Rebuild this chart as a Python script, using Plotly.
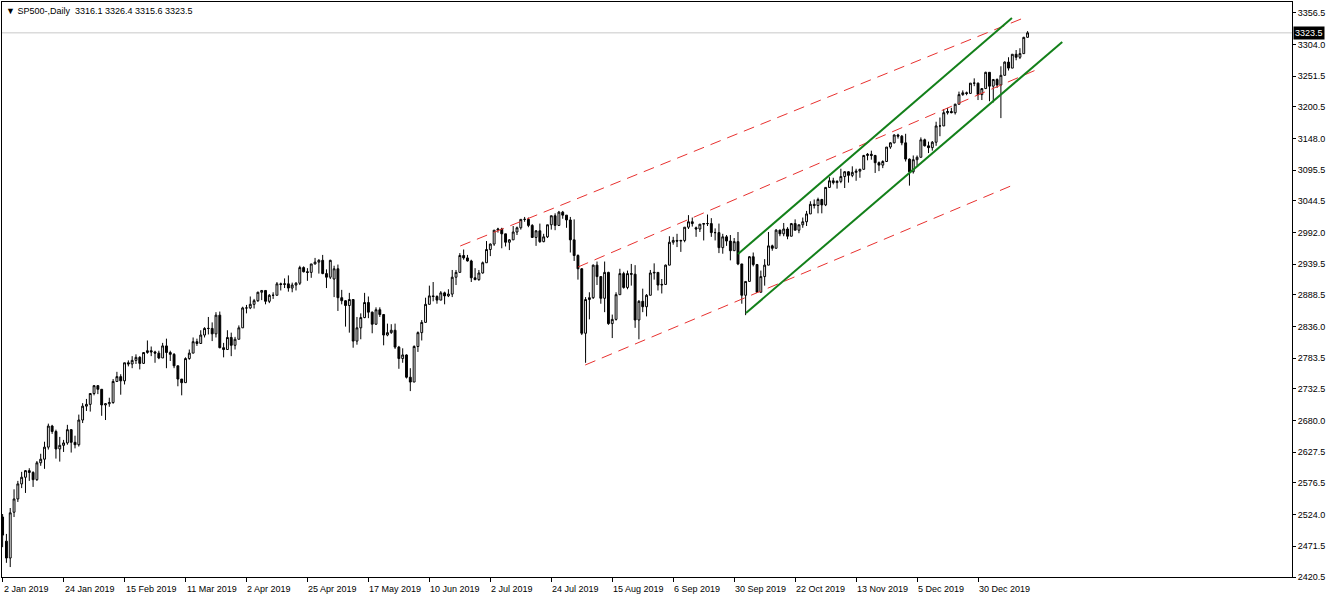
import pandas as pd
import plotly.graph_objects as go

# ---------------- data ----------------
symbol_header = "SP500-,Daily"
last_ohlc = ["3316.1", "3326.4", "3315.6", "3323.5"]
last_price = 3323.5

missing_days = ["2019-04-19", "2019-12-25", "2020-01-01"]

opens = [
    2520, 2480, 2452, 2528, 2550, 2575, 2586, 2597, 2594, 2582,
    2610, 2616, 2636, 2671, 2662, 2633, 2639, 2643, 2665, 2644,
    2640, 2681, 2704, 2707, 2725, 2738, 2732, 2706, 2708, 2710,
    2745, 2753, 2746, 2776, 2774, 2780, 2785, 2775, 2793, 2796,
    2794, 2792, 2784, 2804, 2793, 2790, 2771, 2749, 2743, 2783,
    2792, 2811, 2808, 2822, 2833, 2833, 2824, 2855, 2801, 2798,
    2818, 2805, 2815, 2834, 2867, 2867, 2873, 2879, 2893, 2896,
    2878, 2888, 2888, 2907, 2906, 2907, 2900, 2905, 2908, 2934,
    2927, 2926, 2940, 2943, 2946, 2924, 2918, 2915, 2932, 2884,
    2879, 2871, 2881, 2812, 2834, 2851, 2876, 2860, 2840, 2864,
    2856, 2822, 2826, 2830, 2802, 2783, 2789, 2752, 2744, 2803,
    2826, 2843, 2873, 2887, 2886, 2880, 2892, 2887, 2890, 2918,
    2926, 2954, 2950, 2945, 2917, 2914, 2925, 2942, 2964, 2973,
    2996, 2998, 2990, 2976, 2980, 2993, 3000, 3014, 3014, 3004,
    2984, 2995, 2977, 2985, 3005, 3020, 3004, 3026, 3021, 3013,
    2980, 2954, 2932, 2825, 2881, 2884, 2938, 2919, 2883, 2926,
    2841, 2848, 2889, 2924, 2901, 2924, 2923, 2847, 2878, 2869,
    2888, 2925, 2926, 2905, 2906, 2938, 2976, 2979, 2978, 2979,
    3001, 3010, 3000, 2998, 3006, 3007, 3007, 2992, 2992, 2967,
    2985, 2978, 2962, 2977, 2940, 2888, 2911, 2952, 2939, 2893,
    2919, 2938, 2970, 2966, 2996, 2990, 2998, 2986, 3007, 2996,
    3005, 3010, 3023, 3039, 3037, 3047, 3038, 3067, 3078, 3075,
    3077, 3085, 3093, 3087, 3092, 3094, 3097, 3120, 3122, 3120,
    3108, 3104, 3110, 3134, 3141, 3154, 3152, 3141, 3114, 3093,
    3113, 3117, 3146, 3136, 3133, 3142, 3169, 3169, 3191, 3193,
    3191, 3205, 3221, 3224, 3223, 3240, 3240, 3221, 3231, 3258,
    3235, 3246, 3237, 3253, 3275, 3265, 3288, 3283, 3289, 3316.1,
]
highs = [
    2525, 2492, 2535, 2566, 2580, 2595, 2598, 2601, 2596, 2613,
    2625, 2645, 2675, 2673, 2665, 2653, 2648, 2673, 2666, 2655,
    2690, 2709, 2716, 2725, 2739, 2739, 2732, 2709, 2718, 2749,
    2761, 2757, 2776, 2780, 2787, 2790, 2787, 2793, 2813, 2803,
    2796, 2796, 2809, 2816, 2796, 2792, 2771, 2749, 2785, 2798,
    2818, 2816, 2830, 2835, 2852, 2843, 2860, 2861, 2809, 2830,
    2826, 2819, 2838, 2869, 2872, 2886, 2882, 2894, 2896, 2896,
    2890, 2893, 2910, 2909, 2916, 2921, 2909, 2910, 2937, 2936,
    2933, 2940, 2950, 2948, 2955, 2931, 2947, 2937, 2939, 2897,
    2880, 2892, 2881, 2852, 2858, 2892, 2886, 2861, 2868, 2868,
    2857, 2841, 2840, 2841, 2804, 2800, 2790, 2767, 2805, 2828,
    2847, 2884, 2904, 2910, 2888, 2895, 2894, 2898, 2930, 2930,
    2958, 2964, 2955, 2947, 2933, 2930, 2944, 2978, 2974, 2996,
    3000, 3000, 2990, 2981, 3003, 3002, 3014, 3018, 3017, 3006,
    2996, 3007, 2990, 3005, 3020, 3024, 3028, 3028, 3021, 3018,
    3014, 2956, 2933, 2885, 2893, 2939, 2944, 2919, 2944, 2927,
    2856, 2893, 2932, 2927, 2929, 2940, 2938, 2880, 2899, 2890,
    2930, 2941, 2926, 2915, 2939, 2986, 2985, 2990, 2980, 3001,
    3021, 3017, 3002, 3006, 3008, 3022, 3016, 2999, 3007, 2990,
    2988, 2988, 2983, 2993, 2940, 2911, 2953, 2959, 2940, 2929,
    2948, 2993, 2972, 2998, 2997, 3008, 3001, 3008, 3014, 3005,
    3017, 3028, 3044, 3047, 3050, 3048, 3067, 3084, 3083, 3079,
    3098, 3094, 3094, 3102, 3098, 3098, 3121, 3124, 3128, 3121,
    3110, 3112, 3134, 3142, 3155, 3156, 3154, 3156, 3115, 3120,
    3120, 3150, 3148, 3143, 3144, 3176, 3183, 3197, 3199, 3199,
    3206, 3226, 3228, 3226, 3240, 3248, 3241, 3232, 3259, 3258,
    3247, 3248, 3268, 3276, 3283, 3288, 3295, 3298, 3317, 3326.4,
]
lows = [
    2470, 2444, 2437, 2520, 2545, 2568, 2560, 2580, 2570, 2580,
    2605, 2600, 2632, 2658, 2617, 2612, 2628, 2640, 2627, 2634,
    2637, 2676, 2696, 2695, 2722, 2724, 2688, 2681, 2703, 2708,
    2744, 2723, 2740, 2770, 2767, 2774, 2765, 2774, 2791, 2787,
    2776, 2782, 2784, 2767, 2779, 2767, 2737, 2722, 2743, 2781,
    2792, 2804, 2808, 2818, 2823, 2812, 2818, 2800, 2785, 2798,
    2787, 2798, 2815, 2834, 2858, 2865, 2866, 2877, 2880, 2873,
    2875, 2882, 2888, 2896, 2900, 2894, 2893, 2896, 2905, 2926,
    2912, 2917, 2939, 2924, 2923, 2900, 2915, 2885, 2862, 2873,
    2836, 2826, 2801, 2806, 2815, 2850, 2850, 2825, 2839, 2852,
    2805, 2820, 2824, 2799, 2766, 2776, 2750, 2729, 2744, 2794,
    2813, 2843, 2873, 2878, 2874, 2880, 2873, 2885, 2885, 2905,
    2926, 2947, 2944, 2910, 2913, 2912, 2924, 2942, 2953, 2970,
    2992, 2966, 2969, 2963, 2980, 2988, 2997, 3010, 3001, 2984,
    2970, 2975, 2976, 2983, 2997, 2996, 3003, 3015, 3000, 2959,
    2945, 2914, 2822, 2776, 2848, 2882, 2905, 2874, 2860, 2839,
    2817, 2846, 2889, 2899, 2898, 2904, 2834, 2815, 2860, 2853,
    2888, 2914, 2896, 2891, 2906, 2938, 2972, 2968, 2960, 2976,
    2998, 3002, 2985, 2993, 2979, 3003, 2985, 2979, 2958, 2957,
    2970, 2946, 2962, 2938, 2874, 2855, 2911, 2936, 2892, 2893,
    2904, 2938, 2962, 2966, 2986, 2986, 2981, 2986, 2996, 2991,
    3000, 3003, 3023, 3032, 3024, 3024, 3036, 3066, 3072, 3065,
    3074, 3066, 3075, 3084, 3078, 3083, 3097, 3112, 3113, 3091,
    3094, 3099, 3110, 3131, 3140, 3148, 3137, 3110, 3070, 3090,
    3103, 3117, 3135, 3124, 3128, 3136, 3152, 3169, 3188, 3190,
    3188, 3205, 3219, 3220, 3223, 3235, 3212, 3212, 3231, 3210,
    3208, 3232, 3182, 3253, 3261, 3265, 3278, 3280, 3289, 3315.6,
]
closes = [
    2490, 2452, 2527, 2550, 2575, 2586, 2597, 2594, 2582, 2610,
    2616, 2636, 2671, 2662, 2633, 2639, 2643, 2665, 2644, 2640,
    2681, 2704, 2707, 2725, 2738, 2732, 2706, 2708, 2710, 2745,
    2753, 2746, 2776, 2774, 2780, 2785, 2775, 2793, 2796, 2794,
    2792, 2784, 2804, 2793, 2790, 2771, 2749, 2743, 2783, 2792,
    2811, 2808, 2822, 2833, 2833, 2824, 2855, 2801, 2798, 2818,
    2805, 2815, 2834, 2867, 2867, 2873, 2879, 2893, 2896, 2878,
    2888, 2888, 2907, 2906, 2907, 2900, 2905, 2908, 2934, 2927,
    2926, 2940, 2943, 2946, 2924, 2918, 2946, 2932, 2884, 2879,
    2871, 2881, 2812, 2834, 2851, 2876, 2860, 2840, 2864, 2856,
    2822, 2826, 2830, 2802, 2783, 2789, 2752, 2744, 2803, 2826,
    2843, 2873, 2887, 2886, 2880, 2892, 2887, 2890, 2918, 2926,
    2954, 2950, 2945, 2917, 2914, 2925, 2942, 2964, 2973, 2996,
    2998, 2990, 2976, 2980, 2993, 3000, 3014, 3014, 3004, 2984,
    2995, 2977, 2985, 3005, 3020, 3004, 3026, 3021, 3013, 2980,
    2954, 2932, 2825, 2881, 2884, 2938, 2919, 2883, 2926, 2841,
    2848, 2889, 2924, 2901, 2924, 2923, 2847, 2878, 2869, 2888,
    2925, 2926, 2905, 2906, 2938, 2976, 2979, 2978, 2979, 3001,
    3010, 3007, 2998, 3006, 3007, 3007, 2992, 2992, 2967, 2985,
    2978, 2962, 2977, 2940, 2888, 2911, 2952, 2939, 2893, 2919,
    2938, 2970, 2966, 2996, 2990, 2998, 2986, 3007, 2996, 3005,
    3010, 3023, 3039, 3037, 3047, 3038, 3067, 3078, 3075, 3077,
    3085, 3093, 3087, 3092, 3094, 3097, 3120, 3122, 3120, 3108,
    3104, 3110, 3134, 3141, 3154, 3152, 3141, 3114, 3093, 3113,
    3117, 3146, 3136, 3133, 3142, 3169, 3169, 3191, 3193, 3191,
    3205, 3221, 3224, 3223, 3240, 3240, 3221, 3231, 3258, 3235,
    3246, 3237, 3253, 3275, 3265, 3288, 3283, 3289, 3316, 3323.5,
]

date_tick_labels = [
    "2 Jan 2019", "24 Jan 2019", "15 Feb 2019", "11 Mar 2019", "2 Apr 2019",
    "25 Apr 2019", "17 May 2019", "10 Jun 2019", "2 Jul 2019", "24 Jul 2019",
    "15 Aug 2019", "6 Sep 2019", "30 Sep 2019", "22 Oct 2019", "13 Nov 2019",
    "5 Dec 2019", "30 Dec 2019",
]
price_ticks = [
    "3356.5", "3304.0", "3251.5", "3200.5", "3148.0", "3095.5", "3044.5",
    "2992.0", "2939.5", "2888.5", "2836.0", "2783.5", "2732.5", "2680.0",
    "2627.5", "2576.5", "2524.0", "2471.5", "2420.5",
]

# trend lines drawn on the chart (bar index, price)
red_x0 = [120.1, 151.0, 152.9]
red_y0 = [2969.8, 2934.9, 2772.3]
red_x1 = [268.6, 271.8, 265.2]
red_y1 = [3349.8, 3263.5, 3071.0]
green_x0 = [193.0, 195.1]
green_y0 = [2956.5, 2858.6]
green_x1 = [264.9, 278.1]
green_y1 = [3348.1, 3308.3]

# ---------------- build ----------------
bars = pd.bdate_range("2019-01-02", "2020-01-17")
bars = bars[~bars.isin(pd.to_datetime(missing_days))]
idx = list(range(len(closes)))
tick_pos = [bars.get_loc(pd.to_datetime(s, format="%d %b %Y")) for s in date_tick_labels]

FONT = "Liberation Sans, Arial, sans-serif"

fig = go.Figure()
fig.add_trace(go.Candlestick(
    x=idx, open=opens, high=highs, low=lows, close=closes,
    increasing=dict(fillcolor="white", line=dict(color="black", width=1)),
    decreasing=dict(fillcolor="black", line=dict(color="black", width=1)),
    whiskerwidth=0, showlegend=False, hoverinfo="skip",
))

# bid line
fig.add_hline(y=last_price, line=dict(color="#c8c8c8", width=1), layer="below")

for i in range(len(red_x0)):
    fig.add_trace(go.Scatter(
        x=[red_x0[i], red_x1[i]], y=[red_y0[i], red_y1[i]], mode="lines",
        line=dict(color="#e8312f", width=1, dash="11px,7px"),
        showlegend=False, hoverinfo="skip"))
for i in range(len(green_x0)):
    fig.add_trace(go.Scatter(
        x=[green_x0[i], green_x1[i]], y=[green_y0[i], green_y1[i]], mode="lines",
        line=dict(color="#13801a", width=2),
        showlegend=False, hoverinfo="skip"))

annotations = []
for pos, lab in zip(tick_pos, date_tick_labels):
    annotations.append(dict(
        x=pos, y=0, xref="x", yref="paper", text=lab, showarrow=False,
        xanchor="left", yanchor="top", xshift=-1, yshift=-5,
        font=dict(family=FONT, size=9, color="black")))

header = "\u25BC " + symbol_header + "\u00a0\u00a0" + " ".join(last_ohlc)
annotations.append(dict(
    x=0, y=1, xref="paper", yref="paper", text=header, showarrow=False,
    xanchor="left", yanchor="top", xshift=2, yshift=-2,
    font=dict(family=FONT, size=9, color="black")))

annotations.append(dict(
    x=1, y=last_price, xref="paper", yref="y", text=f"{last_price:.1f}",
    showarrow=False, xanchor="left", yanchor="middle", xshift=1,
    bgcolor="black", borderpad=1,
    font=dict(family=FONT, size=9, color="white")))

fig.update_layout(
    width=1332, height=601,
    margin=dict(l=2, r=40, t=2, b=24),
    paper_bgcolor="white", plot_bgcolor="white",
    annotations=annotations,
    hovermode=False,
    xaxis=dict(
        range=[-0.16, 338.4], rangeslider=dict(visible=False),
        showgrid=False, zeroline=False,
        showline=True, linecolor="black", linewidth=1, mirror=True,
        tickvals=tick_pos, ticktext=["" for _ in tick_pos],
        ticks="outside", ticklen=4, tickcolor="black", showticklabels=False,
    ),
    yaxis=dict(
        side="right", range=[2420.5, 3374.7], automargin=False,
        showgrid=False, zeroline=False,
        showline=True, linecolor="black", linewidth=1, mirror=True,
        tickvals=[float(t) for t in price_ticks], ticktext=price_ticks,
        ticks="outside", ticklen=3, tickcolor="black",
        tickfont=dict(family=FONT, size=9, color="black"),
    ),
    font=dict(family=FONT, size=9, color="black"),
)

fig.write_html("out.html", config={"displayModeBar": False},
               post_script="document.body.style.margin='0';")
